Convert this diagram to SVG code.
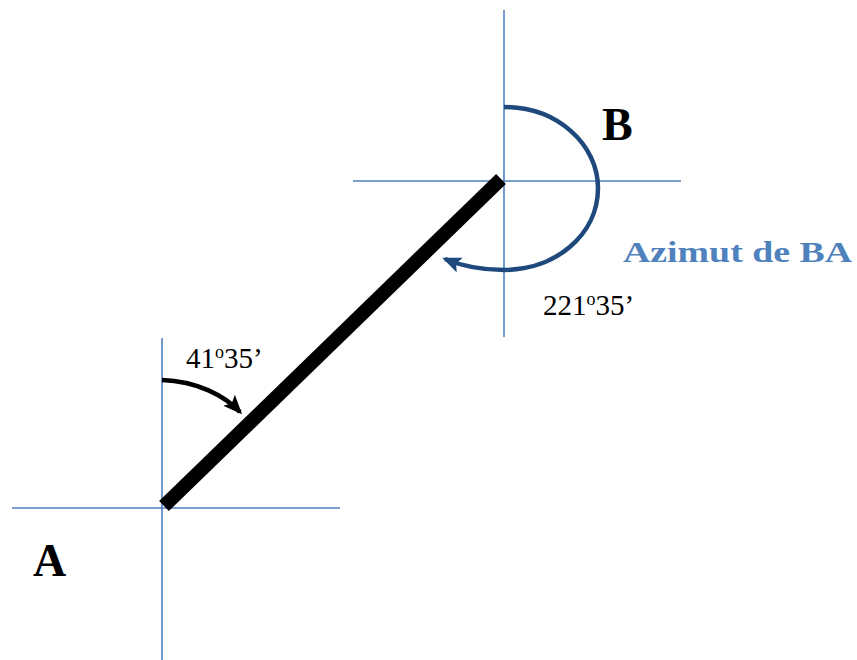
<svg xmlns="http://www.w3.org/2000/svg" width="857" height="660" viewBox="0 0 857 660">
<style>
.axis{stroke:#4f81bd;stroke-width:1.6;fill:none}
.lbl{font-family:"Liberation Serif","DejaVu Serif",serif;fill:#000}
.big{font-size:46px;font-weight:bold}
.ang{font-size:29px}
</style>
<defs>
<marker id="ahB" markerWidth="20" markerHeight="18" refX="16" refY="9" orient="auto" markerUnits="userSpaceOnUse"><path d="M0,1 L19,9 L0,17 L4,9 Z" fill="#1f497d"/></marker>
<marker id="ahA" markerWidth="20" markerHeight="18" refX="16" refY="9" orient="auto" markerUnits="userSpaceOnUse"><path d="M0,1 L19,9 L0,17 L4,9 Z" fill="#000"/></marker>
</defs>
<g id="axes">
<line class="axis" x1="162" y1="338" x2="162" y2="660"/>
<line class="axis" x1="12" y1="508" x2="340" y2="508"/>
<line class="axis" x1="504" y1="10" x2="504" y2="337"/>
<line class="axis" x1="353" y1="181" x2="681" y2="181"/>
</g>
<g id="connectors">
<line x1="164" y1="506" x2="501" y2="179" stroke="#000" stroke-width="14"/>
<path d="M162,380 C197,381 225,396 240,412" fill="none" stroke="#000" stroke-width="4.5" marker-end="url(#ahA)"/>
<path d="M504,107 C558,107 598,145 598,188 C598,236 554,270 504,270 C479,270 462,266 445,259" fill="none" stroke="#1f497d" stroke-width="4.5" marker-end="url(#ahB)"/>
</g>
<g id="A"><text class="lbl big" x="33" y="576">A</text></g>
<g id="B"><text class="lbl big" x="602" y="140">B</text></g>
<g id="angA"><text class="lbl ang" x="186" y="368">41<tspan font-size="18" dy="-10">o</tspan><tspan dy="10">35’</tspan></text></g>
<g id="angB"><text class="lbl ang" x="543" y="315">221<tspan font-size="18" dy="-10">o</tspan><tspan dy="10">35’</tspan></text></g>
<g id="azimut"><text class="lbl" x="623" y="262" font-size="30" font-weight="bold" style="fill:#4f81bd" textLength="229" lengthAdjust="spacingAndGlyphs">Azimut de BA</text></g>
</svg>
